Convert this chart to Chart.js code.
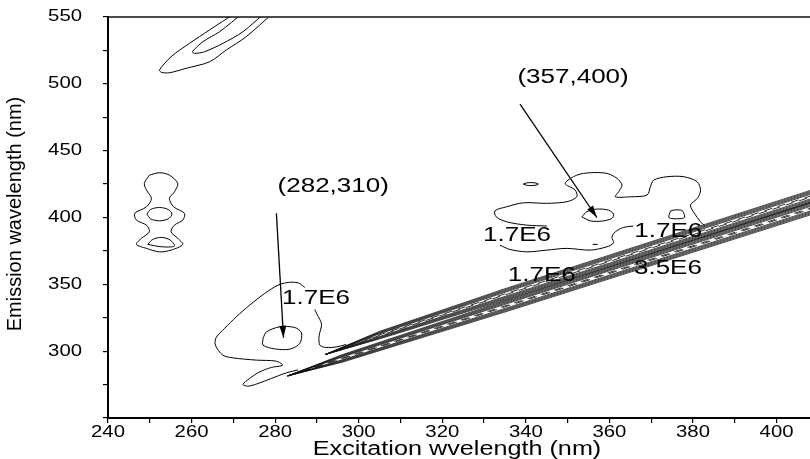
<!DOCTYPE html>
<html>
<head>
<meta charset="utf-8">
<script src="https://cdn.jsdelivr.net/npm/chart.js@4/dist/chart.umd.min.js"></script>
<style>
  html, body { margin: 0; padding: 0; background: #fff; }
  canvas { display: block; }
</style>
</head>
<body>
<canvas id="eem" width="810" height="459"></canvas>
<script>
// Axis ticks (nm)
const xTickLabels = [240, 260, 280, 300, 320, 340, 360, 380, 400];
const yTickLabels = [300, 350, 400, 450, 500, 550];

// Contour lines, [excitation, emission] in nm
const tongueOuter = [[270.5,553],[264.3,540.3],[259.5,530.3],[255.1,520.3],[252.3,510.3],[252.8,508.6],[254.7,508.3],[258.7,511.6],[264.3,516.5],[268.3,525.3],[273.1,535.3],[279.5,553]];
const tongueInner = [[272.3,553],[266.7,539.0],[262.7,531.5],[260.2,524.0],[260.7,522.8],[263.1,524.0],[267.5,530.3],[272.3,539.0],[277.5,553]];

const columnOuter = [[249.9,431.7],[248.7,425.5],[249.2,420.5],[250.4,414.3],[249.2,408.0],[246.4,403.1],[246.8,398.1],[249.2,394.3],[249.9,389.3],[248.0,384.4],[246.8,379.9],[249.2,376.9],[252.3,374.3],[255.1,375.6],[257.9,379.9],[256.7,384.4],[255.1,389.3],[255.9,394.3],[257.9,398.1],[258.3,403.1],[255.7,408.0],[254.7,414.3],[255.9,419.2],[256.7,425.5],[254.7,431.7],[252.3,433.5],[249.9,431.7]];
const columnInnerUpper = [[249.3,402.5],[250.2,406.0],[252.3,407.5],[254.4,406.0],[255.3,402.5],[254.4,399.0],[252.3,397.5],[250.2,399.0],[249.3,402.5]];
const columnInnerLower = [[249.5,379.9],[250.7,383.6],[252.8,385.1],[254.9,383.1],[255.9,378.6],[252.8,378.1],[249.5,379.9]];

const peakAInner = [[277.1,309.5],[277.9,314.4],[281.1,318.2],[284.7,317.7],[286.3,313.7],[285.9,305.8],[283.5,301.5],[279.9,301.7],[277.1,304.5],[277.1,309.5]];
const peakAOuterLeft = [[287.1,347.7],[285.5,351.1],[283.1,351.4],[280.7,349.4],[277.5,343.2],[273.9,334.4],[270.7,325.7],[267.9,317.0],[265.9,310.3],[265.7,304.5],[267.5,297.0],[269.9,295.0],[275.5,293.3],[280.3,292.5],[281.8,289.5],[279.1,287.8],[276.3,284.5],[273.9,279.6],[272.3,275.1],[273.5,273.8],[275.9,275.8],[279.1,279.6],[282.7,283.8],[285.5,286.0]];
const peakAOuterRight = [[289.5,331.2],[290.0,327.7],[291.1,320.2],[290.5,311.2],[290.7,304.5],[292.1,302.8],[294.7,303.2],[297.0,305.0]];

const peakBUpper = [[345.0,393.6],[340.2,394.3],[335.4,396.8],[332.9,400.5],[332.6,405.0],[335.4,408.0],[339.4,411.0],[345.0,410.6],[349.8,411.8],[352.2,415.5],[351.8,420.5],[349.4,425.5],[352.2,431.7],[355.4,433.5],[359.4,433.0],[361.8,429.3],[363.0,424.3],[362.2,419.2],[361.4,415.5],[365.0,415.5],[369.0,416.8],[369.8,423.0],[370.6,428.0],[373.8,430.5],[377.8,430.5],[381.0,426.7],[381.8,420.5],[381.1,414.5],[379.4,409.3],[380.3,403.3],[381.8,396.8],[382.8,393.6]];
const peakBLower = [[333.8,379.3],[336.2,376.1],[340.2,374.3],[345.0,375.6],[349.8,376.9],[355.4,375.6],[359.4,378.1],[361.0,381.1],[360.6,385.1],[361.4,389.3],[363.4,392.6],[365.7,393.6]];
const peakBInner = [[353.4,400.5],[354.6,404.3],[357.0,406.3],[359.8,405.5],[361.0,402.5],[360.6,399.3],[358.2,397.3],[355.4,397.5],[353.4,400.5]];
const peakBSide = [[374.6,404.8],[375.4,405.6],[377.0,405.6],[377.6,404.6],[378.0,400.2],[377.2,399.2],[374.9,399.2],[374.2,400.2],[374.6,404.8]];
const peakBSpeck = [[339.4,425.0],[340.2,425.9],[341.2,426.1],[342.2,425.9],[343.0,425.0],[342.2,424.1],[341.2,423.9],[340.2,424.1],[339.4,425.0]];
const peakBDot = [[356.0,379.9],[357.2,379.9]];

// Scatter ridges: centre line [ex, em, relative width], contour half-widths (nm)
const ridgeUpperCentre = [[292,297.5,0],[305,312,0.6],[335,342.5,0.9],[410,417.5,1]];
const ridgeLowerCentre = [[283,281.5,0],[296,294.5,0.6],[335,333.5,0.9],[410,408.5,1]];
const ridgeHalfWidths = [4.7, 3.95, 3.2, 2.45, 1.7];
const ridgeCoreHalfWidth = 0.4;

// Peak markers: arrow tail -> peak
const arrowPeakA = [[280.3,403.1],[282,310]];
const arrowPeakB = [[338.6,484.9],[357,400]];

// Text annotations [text, ex, em]
const peakLabels = [['(282,310)', 293.9, 423.5], ['(357,400)', 351.3, 505.1]];
const levelLabels = [['1.7E6', 289.8, 339.7], ['1.7E6', 337.9, 386.4], ['1.7E6', 343.8, 356.5], ['1.7E6', 374.1, 389.4], ['3.5E6', 374.0, 361.7]];

const toXY = pts => pts.map(([x, y]) => ({ x, y }));

function contour(pts, extra) {
  return Object.assign({
    data: toXY(pts), showLine: true, pointRadius: 0, borderColor: '#000',
    borderWidth: 1, tension: 0.3, fill: false
  }, extra || {});
}

function ridgeLoop(centre, hw, extra) {
  const top = centre.map(([ex, em, w]) => [ex, em + hw * w]);
  const bottom = centre.slice().reverse().map(([ex, em, w]) => [ex, em - hw * w]);
  return contour(top.concat(bottom), Object.assign({ tension: 0, borderWidth: 0.75, borderColor: '#111' }, extra || {}));
}

function ridge(centre) {
  return ridgeHalfWidths.map(hw => ridgeLoop(centre, hw))
    .concat([ridgeLoop(centre, ridgeCoreHalfWidth, { borderDash: [8, 6], borderWidth: 1, borderColor: '#333' })]);
}

const datasets = [
  contour(tongueOuter), contour(tongueInner),
  contour(columnOuter), contour(columnInnerUpper), contour(columnInnerLower),
  contour(peakAInner), contour(peakAOuterLeft), contour(peakAOuterRight),
  contour(peakBUpper), contour(peakBLower), contour(peakBInner),
  contour(peakBSide), contour(peakBSpeck), contour(peakBDot, { tension: 0 }),
  ...ridge(ridgeUpperCentre), ...ridge(ridgeLowerCentre),
  contour(arrowPeakA, { tension: 0, borderWidth: 1.3, arrow: true }),
  contour(arrowPeakB, { tension: 0, borderWidth: 1.3, arrow: true })
];

function stretchedText(ctx, text, x, y, font, sx, align) {
  ctx.save();
  ctx.translate(x, y);
  ctx.scale(sx, 1);
  ctx.font = font;
  ctx.fillStyle = '#000';
  ctx.textAlign = align || 'center';
  ctx.textBaseline = 'middle';
  ctx.fillText(text, 0, 0);
  ctx.restore();
}

const labelFont = '20px "Liberation Sans", Arial, sans-serif';

const decorations = {
  id: 'decorations',
  afterDatasetsDraw(chart) {
    const { ctx, scales: { x, y } } = chart;
    // arrow heads
    chart.data.datasets.forEach(ds => {
      if (!ds.arrow) return;
      const pts = ds.data;
      const a = pts[pts.length - 2], b = pts[pts.length - 1];
      const x1 = x.getPixelForValue(a.x), y1 = y.getPixelForValue(a.y);
      const x2 = x.getPixelForValue(b.x), y2 = y.getPixelForValue(b.y);
      const ang = Math.atan2(y2 - y1, x2 - x1);
      ctx.save();
      ctx.translate(x2, y2);
      ctx.rotate(ang);
      ctx.beginPath();
      ctx.moveTo(0, 0);
      ctx.lineTo(-12, -3.5);
      ctx.lineTo(-12, 3.5);
      ctx.closePath();
      ctx.fillStyle = '#000';
      ctx.fill();
      ctx.restore();
    });
    peakLabels.concat(levelLabels).forEach(([t, ex, em]) =>
      stretchedText(ctx, t, x.getPixelForValue(ex), y.getPixelForValue(em), labelFont, 1.3));
  },
  afterDraw(chart) {
    const { ctx, chartArea, scales: { x, y } } = chart;
    // frame line along the top
    ctx.save();
    ctx.strokeStyle = '#111';
    ctx.lineWidth = 1.6;
    ctx.beginPath();
    ctx.moveTo(chartArea.left, chartArea.top);
    ctx.lineTo(chartArea.right, chartArea.top);
    ctx.stroke();
    ctx.restore();
    const tickFont = '16px "Liberation Sans", Arial, sans-serif';
    xTickLabels.forEach(v => stretchedText(ctx, String(v), x.getPixelForValue(v), chartArea.bottom + 15, tickFont, 1.27));
    yTickLabels.forEach(v => stretchedText(ctx, String(v), chartArea.left - 26, y.getPixelForValue(v), tickFont, 1.27, 'right'));
    stretchedText(ctx, 'Excitation wvelength (nm)', 457, 449, labelFont, 1.26);
    ctx.save();
    ctx.translate(15, 214);
    ctx.rotate(-Math.PI / 2);
    ctx.font = labelFont;
    ctx.fillStyle = '#000';
    ctx.textAlign = 'center';
    ctx.textBaseline = 'middle';
    ctx.fillText('Emission wavelength (nm)', 0, 0);
    ctx.restore();
  }
};

const axisGrid = { drawOnChartArea: false, drawTicks: true, tickLength: 5, color: '#000', lineWidth: 1.2 };
const axisBorder = { display: true, color: '#000', width: 2 };

new Chart(document.getElementById('eem'), {
  type: 'scatter',
  data: { datasets },
  options: {
    responsive: false,
    animation: false,
    devicePixelRatio: 1,
    layout: { padding: { top: 17, right: 0, left: 0, bottom: 0 } },
    plugins: { legend: { display: false }, tooltip: { enabled: false } },
    scales: {
      x: {
        type: 'linear', min: 240, max: 408,
        ticks: { stepSize: 10, display: false },
        afterBuildTicks: s => { s.ticks = s.ticks.filter(t => t.value % 10 === 0); },
        afterFit: s => { s.height = 41; },
        grid: axisGrid, border: axisBorder
      },
      y: {
        type: 'linear', min: 250, max: 550,
        ticks: { stepSize: 25, display: false },
        afterFit: s => { s.width = 108; },
        grid: axisGrid, border: axisBorder
      }
    }
  },
  plugins: [decorations]
});
</script>
</body>
</html>
